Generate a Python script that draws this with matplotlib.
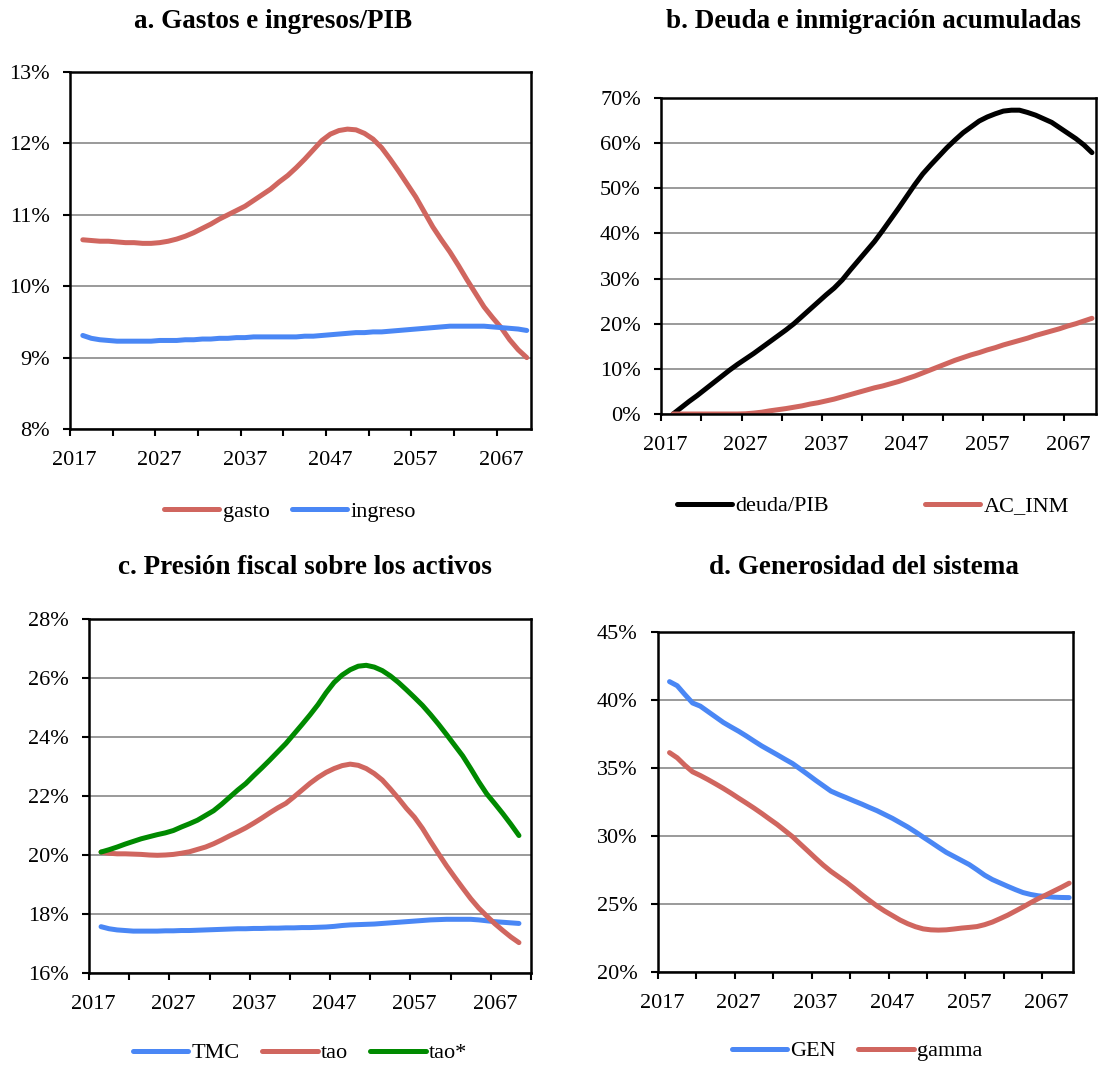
import matplotlib
matplotlib.use("Agg")
import matplotlib.pyplot as plt
from matplotlib.ticker import FuncFormatter

plt.rcParams['font.family'] = ['Liberation Serif', 'DejaVu Serif']

years = list(range(2018, 2071))

# a. gastos e ingresos / PIB (%)
gasto = [10.65, 10.64, 10.63, 10.63, 10.62, 10.61, 10.61, 10.60, 10.60, 10.61,
         10.63, 10.66, 10.70, 10.75, 10.81, 10.87, 10.94, 11.00, 11.06, 11.12,
         11.20, 11.28, 11.36, 11.46, 11.55, 11.66, 11.78, 11.91, 12.04, 12.13,
         12.18, 12.20, 12.19, 12.14, 12.06, 11.94, 11.78, 11.61, 11.43, 11.25,
         11.04, 10.83, 10.65, 10.48, 10.29, 10.09, 9.90, 9.71, 9.56, 9.42,
         9.25, 9.11, 9.00]
ingreso = [9.31, 9.27, 9.25, 9.24, 9.23, 9.23, 9.23, 9.23, 9.23, 9.24,
           9.24, 9.24, 9.25, 9.25, 9.26, 9.26, 9.27, 9.27, 9.28, 9.28,
           9.29, 9.29, 9.29, 9.29, 9.29, 9.29, 9.30, 9.30, 9.31, 9.32,
           9.33, 9.34, 9.35, 9.35, 9.36, 9.36, 9.37, 9.38, 9.39, 9.40,
           9.41, 9.42, 9.43, 9.44, 9.44, 9.44, 9.44, 9.44, 9.43, 9.42,
           9.41, 9.40, 9.38]

# b. deuda e inmigración acumuladas (%)
deuda = [0.0, 1.4, 2.8, 4.1, 5.5, 6.9, 8.3, 9.7, 11.0, 12.2,
         13.4, 14.7, 16.0, 17.3, 18.6, 20.0, 21.6, 23.2, 24.8, 26.4,
         27.9, 29.7, 31.9, 34.0, 36.1, 38.2, 40.6, 43.1, 45.6, 48.2,
         50.8, 53.2, 55.2, 57.1, 59.0, 60.7, 62.3, 63.6, 64.9, 65.8,
         66.5, 67.1, 67.3, 67.3, 66.8, 66.2, 65.4, 64.6, 63.4, 62.2,
         61.0, 59.6, 57.9]
ac_inm = [0.0, 0.0, 0.0, 0.0, 0.0, 0.0, 0.0, 0.0, 0.0, 0.05,
          0.2, 0.4, 0.7, 0.95, 1.2, 1.5, 1.8, 2.2, 2.5, 2.9,
          3.3, 3.8, 4.3, 4.8, 5.3, 5.8, 6.2, 6.7, 7.2, 7.8,
          8.4, 9.1, 9.8, 10.5, 11.2, 11.9, 12.5, 13.1, 13.6, 14.2,
          14.7, 15.3, 15.8, 16.3, 16.8, 17.4, 17.9, 18.4, 18.9, 19.5,
          20.0, 20.6, 21.2]

# c. presión fiscal sobre los activos (%)
tmc = [17.57, 17.50, 17.46, 17.44, 17.42, 17.42, 17.42, 17.42, 17.43, 17.43,
       17.44, 17.44, 17.45, 17.46, 17.47, 17.48, 17.49, 17.50, 17.50, 17.51,
       17.51, 17.52, 17.52, 17.53, 17.53, 17.54, 17.54, 17.55, 17.56, 17.58,
       17.61, 17.63, 17.64, 17.65, 17.66, 17.68, 17.70, 17.72, 17.74, 17.76,
       17.78, 17.80, 17.81, 17.82, 17.82, 17.82, 17.82, 17.80, 17.77, 17.74,
       17.72, 17.70, 17.68]
tao = [20.10, 20.06, 20.04, 20.04, 20.03, 20.02, 20.00, 19.99, 20.00, 20.02,
       20.06, 20.11, 20.19, 20.27, 20.38, 20.51, 20.65, 20.78, 20.92, 21.08,
       21.25, 21.43, 21.60, 21.75, 21.97, 22.20, 22.43, 22.63, 22.80, 22.93,
       23.03, 23.08, 23.04, 22.93, 22.76, 22.54, 22.24, 21.92, 21.58, 21.28,
       20.90, 20.46, 20.04, 19.63, 19.25, 18.88, 18.52, 18.20, 17.93, 17.67,
       17.44, 17.22, 17.03]
tao_star = [20.10, 20.18, 20.27, 20.37, 20.46, 20.55, 20.62, 20.69, 20.75, 20.83,
            20.95, 21.06, 21.18, 21.34, 21.50, 21.72, 21.96, 22.20, 22.42, 22.69,
            22.95, 23.22, 23.50, 23.78, 24.10, 24.42, 24.75, 25.10, 25.50, 25.85,
            26.10, 26.28, 26.40, 26.43, 26.37, 26.25, 26.07, 25.85, 25.60, 25.34,
            25.07, 24.76, 24.43, 24.08, 23.72, 23.36, 22.93, 22.48, 22.07, 21.74,
            21.40, 21.04, 20.66]

# d. generosidad del sistema (%)
gen = [41.35, 41.05, 40.40, 39.78, 39.55, 39.15, 38.75, 38.35, 38.02, 37.70,
       37.35, 36.98, 36.62, 36.30, 35.98, 35.65, 35.33, 34.93, 34.52, 34.10,
       33.70, 33.30, 33.05, 32.82, 32.58, 32.35, 32.10, 31.86, 31.58, 31.30,
       30.98, 30.66, 30.30, 29.92, 29.55, 29.17, 28.80, 28.50, 28.20, 27.90,
       27.52, 27.12, 26.80, 26.55, 26.30, 26.06, 25.84, 25.70, 25.60, 25.55,
       25.50, 25.48, 25.47]
gamma = [36.13, 35.75, 35.20, 34.72, 34.45, 34.15, 33.83, 33.50, 33.15, 32.78,
         32.42, 32.05, 31.66, 31.25, 30.85, 30.40, 29.95, 29.42, 28.90, 28.37,
         27.86, 27.40, 27.00, 26.60, 26.16, 25.70, 25.27, 24.85, 24.48, 24.15,
         23.82, 23.55, 23.33, 23.17, 23.10, 23.08, 23.10, 23.16, 23.23, 23.28,
         23.34, 23.48, 23.67, 23.92, 24.18, 24.48, 24.78, 25.10, 25.40, 25.67,
         25.95, 26.23, 26.53]

RED = '#D0665F'
BLUE = '#4A87F5'
GREEN = '#008A00'
BLACK = '#000000'

W, H = 1098, 1066
fig = plt.figure(figsize=(W / 100, H / 100), dpi=100)


def make_axes(left, right, top, bottom):
    return fig.add_axes([left / W, 1 - bottom / H, (right - left) / W, (bottom - top) / H])


def setup(ax, ylo, yhi, ystep, last_cat):
    ax.set_xlim(2016.5, last_cat + 0.5)
    ax.set_ylim(ylo, yhi)
    ax.set_yticks(list(range(ylo, yhi + 1, ystep)))
    ax.yaxis.set_major_formatter(FuncFormatter(lambda v, p: '%d%%' % v))
    # year labels sit on the categories, tick marks between groups of five
    ax.set_xticks(list(range(2017, last_cat + 1, 10)))
    ax.set_xticks([2016.5 + 5 * k for k in range(int((last_cat - 2016) / 5) + 1)], minor=True)
    ax.tick_params(axis='x', which='major', length=0, pad=15.5, labelsize=16)
    ax.tick_params(axis='x', which='minor', length=5, width=1.5, direction='out')
    ax.tick_params(axis='y', length=5, width=1.5, direction='out', pad=9.5, labelsize=16)
    ax.yaxis.grid(True, color='#9a9a9a', linewidth=1.4)
    ax.set_axisbelow(True)
    for sp in ax.spines.values():
        sp.set_linewidth(1.8)
        sp.set_color('black')


def draw(ax, values, color, label):
    ax.plot(years, values, color=color, lw=3.6, label=label,
            solid_capstyle='round', solid_joinstyle='round')


def title(cx, cy, text):
    fig.text(cx / W, 1 - cy / H, text, ha='center', va='center',
             fontsize=19.5, fontweight='bold')


def legend(ax, cx, cy, spacing):
    ax.legend(loc='center', bbox_to_anchor=(cx / W, 1 - cy / H),
              bbox_transform=fig.transFigure, ncol=3, frameon=False,
              fontsize=16, handlelength=2.5, handletextpad=0.15,
              columnspacing=spacing, borderaxespad=0)


# a
ax_a = make_axes(70, 531, 72, 429)
setup(ax_a, 8, 13, 1, 2070)
draw(ax_a, gasto, RED, 'gasto')
draw(ax_a, ingreso, BLUE, 'ingreso')
title(273, 21, 'a. Gastos e ingresos/PIB')
legend(ax_a, 290, 512, 1.0)

# b
ax_b = make_axes(661, 1096, 98, 414)
setup(ax_b, 0, 70, 10, 2070)
draw(ax_b, deuda, BLACK, 'deuda/PIB')
draw(ax_b, ac_inm, RED, 'AC_INM')
title(873, 21, 'b. Deuda e inmigración acumuladas')
legend(ax_b, 873, 506, 4.3)

# c
ax_c = make_axes(89, 531, 619, 973)
setup(ax_c, 16, 28, 2, 2071)
draw(ax_c, tmc, BLUE, 'TMC')
draw(ax_c, tao, RED, 'tao')
draw(ax_c, tao_star, GREEN, 'tao*')
title(305, 567, 'c. Presión fiscal sobre los activos')
legend(ax_c, 300, 1053, 1.0)

# d
ax_d = make_axes(658, 1073, 632, 972)
setup(ax_d, 20, 45, 5, 2070)
draw(ax_d, gen, BLUE, 'GEN')
draw(ax_d, gamma, RED, 'gamma')
title(864, 567, 'd. Generosidad del sistema')
legend(ax_d, 857, 1051, 1.0)

fig.savefig('out.png', dpi=100)
